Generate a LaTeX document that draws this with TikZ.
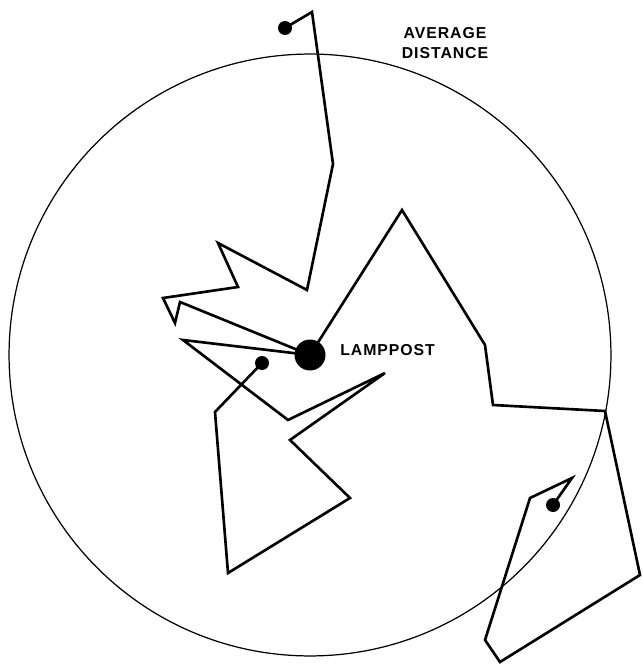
\documentclass[tikz,border=0pt]{standalone}
\usepackage{fontspec}
\setmainfont{Liberation Sans}
\usepackage{tikz}
\usetikzlibrary{positioning}

\tikzset{
  walk/.style={line width=1.5pt, line join=miter},
  dotmark/.style={circle, fill=black, inner sep=0pt, minimum size=0.28cm},
  lamppost/.style={circle, fill=black, inner sep=0pt, minimum size=0.62cm},
  lbl/.style={font=\fontsize{9}{11}\selectfont\bfseries\addfontfeatures{LetterSpace=6}, inner sep=0pt}
}

\begin{document}
\begin{tikzpicture}[x=0.02cm, y=-0.02cm]
    \useasboundingbox (0,0) rectangle (642,665);
    % average distance from the lamppost
    \draw[line width=0.7pt] (310,355) circle[radius=6.02cm];
    \node[lamppost] (lamp) at (310,355) {};
    \node[dotmark] (endA) at (285,28) {};
    \node[dotmark] (endB) at (553,505) {};
    \node[dotmark] (endC) at (262,363) {};
    \node[lbl, anchor=west] (lamplbl) at (340,350) {LAMPPOST};
    \node[lbl, align=center] (avglbl) at (445,43) {AVERAGE\\DISTANCE};
    % the three walks
    \draw[walk] (lamp.center) -- (180,302) -- (175,323) -- (163,298) -- (238,287)
      -- (218,243) -- (307,290) -- (333,164) -- (312,12) -- (endA.center);
    \draw[walk] (lamp.center) -- (402,210) -- (485,345) -- (493,405) -- (605,411)
      -- (640,575) -- (500,662) -- (485,640) -- (530,498) -- (572,478) -- (endB.center);
    \draw[walk] (lamp.center) -- (183,340) -- (288,420) -- (385,373) -- (290,440)
      -- (350,498) -- (228,573) -- (215,412) -- (endC.center);
\end{tikzpicture}
\end{document}
